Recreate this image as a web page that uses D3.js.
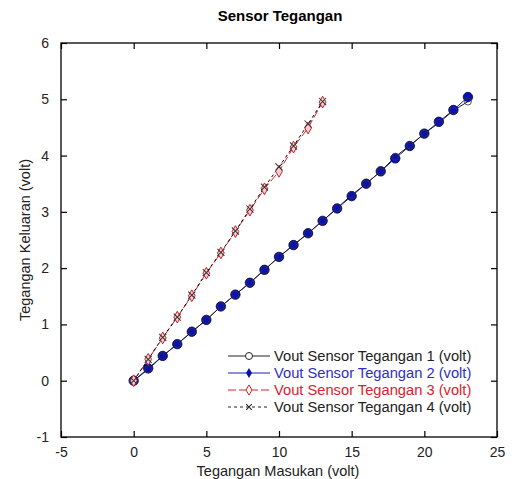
<html>
  <head>
    <script src="https://d3js.org/d3.v7.min.js" charset="utf-8"></script>
    <style>
      body { margin: 0; background: #fff; }
      text { font-family: "Liberation Sans", Arial, sans-serif; }
    </style>
    <script type="text/javascript">
      // data
      var xTicks = [-5, 0, 5, 10, 15, 20, 25]
      var yTicks = [-1, 0, 1, 2, 3, 4, 5, 6]

      var xIn12 = [0,1,2,3,4,5,6,7,8,9,10,11,12,13,14,15,16,17,18,19,20,21,22,23]
      var vout1 = [0,0.20,0.44,0.65,0.87,1.08,1.32,1.53,1.74,1.97,2.20,2.41,2.62,2.84,3.07,3.30,3.50,3.72,3.98,4.18,4.39,4.58,4.80,4.96]
      var vout2 = [0,0.22,0.44,0.65,0.87,1.08,1.32,1.53,1.74,1.97,2.20,2.41,2.62,2.84,3.06,3.28,3.50,3.72,3.95,4.17,4.39,4.60,4.81,5.04]

      var xIn34 = [0,1,2,3,4,5,6,7,8,9,10,11,12,13]
      var vout3 = [0,0.38,0.76,1.13,1.51,1.91,2.27,2.65,3.03,3.41,3.72,4.15,4.49,4.95]
      var vout4 = [0,0.38,0.77,1.13,1.52,1.92,2.28,2.66,3.05,3.44,3.80,4.17,4.56,4.96]

      var seriesNames = [
        "Vout Sensor Tegangan 1 (volt)",
        "Vout Sensor Tegangan 2 (volt)",
        "Vout Sensor Tegangan 3 (volt)",
        "Vout Sensor Tegangan 4 (volt)"
      ]

      window.onload = function(){
        var width = 512
        var height = 479
        var margin = { top: 43, right: 15, bottom: 42, left: 61 }
        var w = width - margin.left - margin.right
        var h = height - margin.top - margin.bottom

        var svg = d3.select("body").append("svg")
          .attr("width", width)
          .attr("height", height)

        var x = d3.scaleLinear().domain([-5, 25]).range([0, w])
        var y = d3.scaleLinear().domain([-1, 6]).range([h, 0])

        var g = svg.append("g").attr("transform", "translate(" + margin.left + "," + margin.top + ")")

        // frame
        g.append("rect").attr("width", w).attr("height", h)
          .attr("fill", "none").attr("stroke", "#000").attr("stroke-width", 1.3)

        var fmt = function(d){ return String(d) } // plain hyphen minus like the original

        // inward ticks on all sides
        function styleAxis(sel, labels) {
          sel.select(".domain").remove()
          sel.selectAll(".tick line").attr("stroke", "#000").attr("stroke-width", 1.2)
          sel.selectAll(".tick text")
            .attr("font-size", "14px").attr("fill", "#222")
            .style("display", labels ? null : "none")
        }
        g.append("g").attr("transform", "translate(0," + h + ")")
          .call(d3.axisBottom(x).tickValues(xTicks).tickFormat(fmt).tickSize(-6).tickPadding(10))
          .call(styleAxis, true)
        g.append("g")
          .call(d3.axisTop(x).tickValues(xTicks).tickSize(-6))
          .call(styleAxis, false)
        g.append("g")
          .call(d3.axisLeft(y).tickValues(yTicks).tickFormat(fmt).tickSize(-6).tickPadding(12))
          .call(styleAxis, true)
        g.append("g").attr("transform", "translate(" + w + ",0)")
          .call(d3.axisRight(y).tickValues(yTicks).tickSize(-6))
          .call(styleAxis, false)

        var line = d3.line().x(function(d){ return x(d[0]) }).y(function(d){ return y(d[1]) })
        function pairs(xs, ys) { return xs.map(function(v, i){ return [v, ys[i]] }) }

        var s1 = pairs(xIn12, vout1)
        var s2 = pairs(xIn12, vout2)
        var s3 = pairs(xIn34, vout3)
        var s4 = pairs(xIn34, vout4)

        // lines
        g.append("path").datum(s2).attr("d", line).attr("fill", "none").attr("stroke", "#1a1aa8").attr("stroke-width", 1)
        g.append("path").datum(s1).attr("d", line).attr("fill", "none").attr("stroke", "#222").attr("stroke-width", 1)
        g.append("path").datum(s3).attr("d", line).attr("fill", "none").attr("stroke", "#e0202a").attr("stroke-width", 1).attr("stroke-dasharray", "8,3")
        g.append("path").datum(s4).attr("d", line).attr("fill", "none").attr("stroke", "#000").attr("stroke-width", 1).attr("stroke-dasharray", "3,3")

        var diamond = d3.symbol().type(d3.symbolDiamond)

        // series 2 markers: filled blue
        g.selectAll(".m2").data(s2).enter().append("path")
          .attr("transform", function(d){ return "translate(" + x(d[0]) + "," + y(d[1]) + ")" })
          .attr("d", d3.symbol().type(d3.symbolCircle).size(70))
          .attr("fill", "#0a10b8").attr("stroke", "#000050").attr("stroke-width", 0.8)
        // series 1 markers: open black circles
        g.selectAll(".m1").data(s1).enter().append("circle")
          .attr("cx", function(d){ return x(d[0]) }).attr("cy", function(d){ return y(d[1]) })
          .attr("r", 3.5).attr("fill", "none").attr("stroke", "#333").attr("stroke-width", 0.8)
        // series 3 markers: open red diamonds
        g.selectAll(".m3").data(s3).enter().append("path")
          .attr("transform", function(d){ return "translate(" + x(d[0]) + "," + y(d[1]) + ")" })
          .attr("d", diamond.size(40))
          .attr("fill", "#f2d0d0").attr("stroke", "#d02030").attr("stroke-width", 1)
        // series 4 markers: black x
        g.selectAll(".m4").data(s4).enter().append("path")
          .attr("transform", function(d){ return "translate(" + x(d[0]) + "," + y(d[1]) + ") rotate(45)" })
          .attr("d", "M-5,0L5,0M0,-5L0,5")
          .attr("stroke", "#333").attr("stroke-width", 1)

        // title and axis labels
        svg.append("text").attr("x", 280).attr("y", 21).attr("text-anchor", "middle")
          .attr("font-size", "15px").attr("font-weight", "bold").attr("font-family", "DejaVu Sans, sans-serif")
          .text("Sensor Tegangan")
        svg.append("text").attr("x", 278).attr("y", 476).attr("text-anchor", "middle")
          .attr("font-size", "14.5px").attr("fill", "#222").text("Tegangan Masukan (volt)")
        svg.append("text").attr("transform", "translate(30," + (margin.top + y(2.5)) + ") rotate(-90)")
          .attr("text-anchor", "middle").attr("font-size", "14.5px").attr("fill", "#222")
          .text("Tegangan Keluaran (volt)")

        // legend
        var legColors = ["#222", "#2020b0", "#e0202a", "#222"]
        var legText = ["#222", "#3030c0", "#e02030", "#222"]
        var legDash = [null, null, "8,3", "3,3"]
        var leg = g.selectAll(".leg").data(seriesNames).enter().append("g")
          .attr("transform", function(d, i){ return "translate(167," + (313 + i * 17) + ")" })
        leg.append("line").attr("x1", 0).attr("x2", 42).attr("y1", 0).attr("y2", 0)
          .attr("stroke", function(d, i){ return legColors[i] })
          .attr("stroke-dasharray", function(d, i){ return legDash[i] })
        leg.each(function(d, i){
          var s = d3.select(this)
          if (i === 0) s.append("circle").attr("cx", 21).attr("r", 3.5).attr("fill", "#fff").attr("stroke", "#222")
          if (i === 1) s.append("path").attr("transform", "translate(21,0)").attr("d", diamond.size(30)).attr("fill", "#0a10b8")
          if (i === 2) s.append("path").attr("transform", "translate(21,0)").attr("d", diamond.size(30)).attr("fill", "#fff").attr("stroke", "#e0202a")
          if (i === 3) s.append("path").attr("transform", "translate(21,0) rotate(45)").attr("d", "M-4,0L4,0M0,-4L0,4").attr("stroke", "#222")
        })
        leg.append("text").attr("x", 46).attr("y", 5).attr("font-size", "14.7px")
          .attr("fill", function(d, i){ return legText[i] })
          .text(function(d){ return d })
      }
    </script>
  </head>
  <body>
  </body>
</html>
